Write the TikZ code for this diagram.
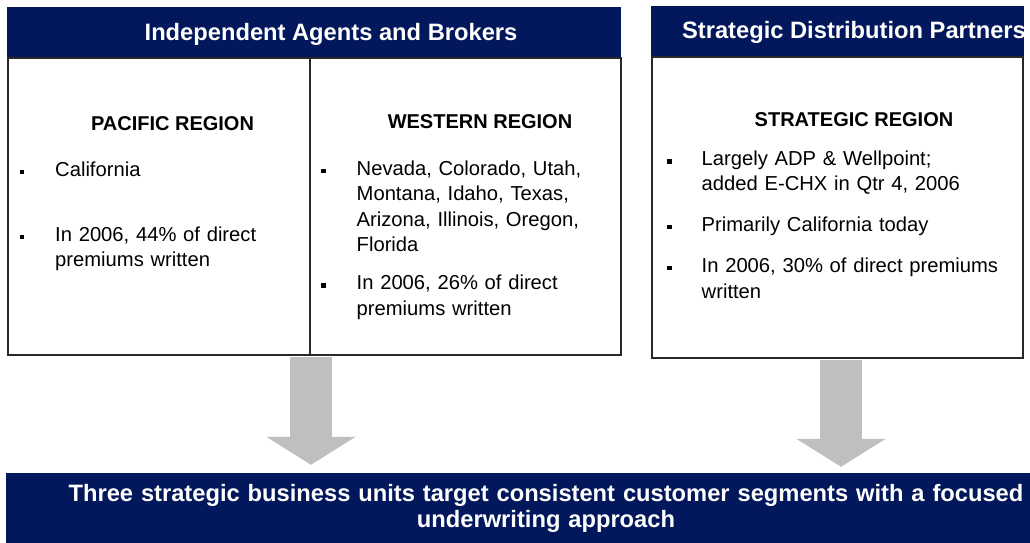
\documentclass[tikz,border=0pt]{standalone}
\usepackage{fontspec}
\setmainfont{Liberation Sans}
\usetikzlibrary{arrows.meta}
\definecolor{navy}{RGB}{3,24,92}
\definecolor{arrowgray}{RGB}{191,191,191}
\definecolor{edgegray}{RGB}{40,40,40}
\tikzset{
	headbox/.style={fill=navy, draw=none, inner sep=0pt},
	bodybox/.style={draw=edgegray, line width=1.4pt, fill=white, inner sep=0pt},
	headtext/.style={text=white, font=\fontsize{23.7}{25.6}\selectfont\bfseries, inner sep=0pt, anchor=base},
	regiontext/.style={font=\fontsize{20}{24}\selectfont\bfseries, inner sep=0pt, anchor=base},
	itemtext/.style={font=\fontsize{20.2}{25.5}\selectfont, inner sep=0pt, anchor=base west, text width=320pt, align=left},
	bulletbox/.style={fill=black, minimum size=4.5pt, inner sep=0pt},
	flowarrow/.style={draw=arrowgray, line width=42pt, -{Triangle[width=88pt,length=28pt]}, shorten <=1pt}
}

\begin{document}
\begin{tikzpicture}[x=1pt,y=-1pt]
			%%%%% START %%%%%
			\useasboundingbox (0,0) rectangle (1030,543);
			
			% headers
			\node[headbox, minimum width=614pt, minimum height=50pt] (iabhead) at (314,32) {};
			\node[headbox, minimum width=373pt, minimum height=51pt] (sdphead) at (837.5,31.5) {};
			
			% region boxes
			\node[bodybox, minimum width=613pt, minimum height=297pt] (agents) at (314.5,206.5) {};
			\node[bodybox, minimum width=371pt, minimum height=301pt] (partners) at (837.5,207.5) {};
			\draw[draw=edgegray, line width=1.4pt] ([xshift=-4.5pt]agents.north) -- ([xshift=-4.5pt]agents.south);
			
			% bottom banner
			\node[headbox, minimum width=1080pt, minimum height=80pt] (banner) at (546,513) {};
			
			\node[headtext] (iabtitle) at (331,40.5) {Independent Agents and Brokers};
			\node[headtext] (sdptitle) at (854,38.5) {Strategic Distribution Partners};
			\node[headtext, text width=1020pt, align=center] (bannertext) at (546,501.5) {Three strategic business units target consistent customer segments with a focused\\underwriting approach};
			
			% region titles
			\node[regiontext] (pacific) at (172.5,130) {PACIFIC REGION};
			\node[regiontext] (western) at (480,128.3) {WESTERN REGION};
			\node[regiontext] (strategic) at (854,126.5) {STRATEGIC REGION};
			
			% pacific items
			\node[bulletbox] (pacbulA) at (22,172) {};
			\node[itemtext] (pacitemA) at (55,176) {California};
			\node[bulletbox] (pacbulB) at (22,237) {};
			\node[itemtext] (pacitemB) at (55,241) {In 2006, 44\% of direct\\premiums written};
			
			% western items
			\node[bulletbox] (wesbulA) at (323.5,171) {};
			\node[itemtext] (wesitemA) at (356.5,175) {Nevada, Colorado, Utah,\\Montana, Idaho, Texas,\\Arizona, Illinois, Oregon,\\Florida};
			\node[bulletbox] (wesbulB) at (323.5,285.5) {};
			\node[itemtext] (wesitemB) at (356.5,289.5) {In 2006, 26\% of direct\\premiums written};
			
			% strategic items
			\node[bulletbox] (strbulA) at (669.5,161.5) {};
			\node[itemtext] (stritemA) at (701.5,165) {Largely ADP \& Wellpoint;\\added E-CHX in Qtr 4, 2006};
			\node[bulletbox] (strbulB) at (669.5,227) {};
			\node[itemtext] (stritemB) at (701.5,231) {Primarily California today};
			\node[bulletbox] (strbulC) at (669.5,268) {};
			\node[itemtext] (stritemC) at (701.5,272.5) {In 2006, 30\% of direct premiums\\written};
			
			% arrows
			\draw[flowarrow, shorten >=8pt] ([xshift=-3.5pt]agents.south) -- ([xshift=-3.5pt]agents.south |- banner.north);
			\draw[flowarrow, shorten >=6pt] ([xshift=3.5pt]partners.south) -- ([xshift=3.5pt]partners.south |- banner.north);
			%%%%% END %%%%%
\end{tikzpicture}
\end{document}
